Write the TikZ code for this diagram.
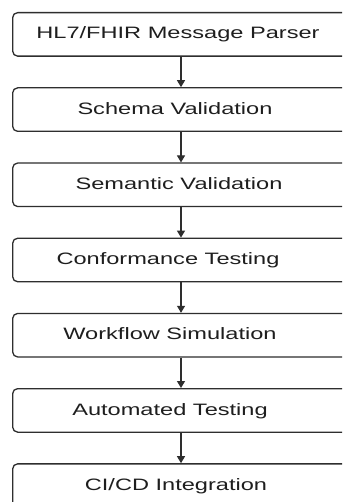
\documentclass[tikz,border=0pt]{standalone}
\usepackage{fontspec}
\usepackage{graphicx}
\setmainfont{Liberation Sans}
\usetikzlibrary{arrows.meta}
\definecolor{edge}{HTML}{2E2E2E}
\definecolor{ink}{HTML}{1E1E1E}
\tikzset{
  stepbox/.style={draw=edge, line width=1.3pt, rounded corners=5pt, fill=white,
    minimum width=348pt, minimum height=43.5pt, anchor=north west, inner sep=0pt},
  lbl/.style={anchor=base, inner sep=0pt, text=ink, font=\fontsize{16.5}{19}\selectfont},
  arr/.style={draw=edge, line width=1.2pt, -{Triangle[width=8pt,length=7pt]}}
}
\newcommand{\wide}[1]{\scalebox{1.43}[1]{#1}}
\begin{document}
\begin{tikzpicture}[x=1pt,y=-1pt]
\useasboundingbox (0,0) rectangle (342,502);
\fill[white] (0,0) rectangle (342,502);
\begin{scope}
\clip (0,0) rectangle (342,502);
\node[stepbox] (b1) at (12,12) {};
\node[stepbox] (b2) at (12,87.2) {};
\node[stepbox] (b3) at (12,162.4) {};
\node[stepbox] (b4) at (12,237.6) {};
\node[stepbox] (b5) at (12,312.8) {};
\node[stepbox] (b6) at (12,388) {};
\node[stepbox] (b7) at (12,463.2) {};
\node[lbl] (t1) at (178,39) {\wide{HL7/FHIR Message Parser}};
\node[lbl] (t2) at (175,114.2) {\wide{Schema Validation}};
\node[lbl] (t3) at (179,189.4) {\wide{Semantic Validation}};
\node[lbl] (t4) at (168,264.6) {\wide{Conformance Testing}};
\node[lbl] (t5) at (170,339.8) {\wide{Workflow Simulation}};
\node[lbl] (t6) at (170,415) {\wide{Automated Testing}};
\node[lbl] (t7) at (176,490.2) {\wide{CI/CD Integration}};
\coordinate (ax) at (181,0);
\draw[arr] (b1.south -| ax) -- (b2.north -| ax);
\draw[arr] (b2.south -| ax) -- (b3.north -| ax);
\draw[arr] (b3.south -| ax) -- (b4.north -| ax);
\draw[arr] (b4.south -| ax) -- (b5.north -| ax);
\draw[arr] (b5.south -| ax) -- (b6.north -| ax);
\draw[arr] (b6.south -| ax) -- (b7.north -| ax);
\end{scope}
\end{tikzpicture}
\end{document}
